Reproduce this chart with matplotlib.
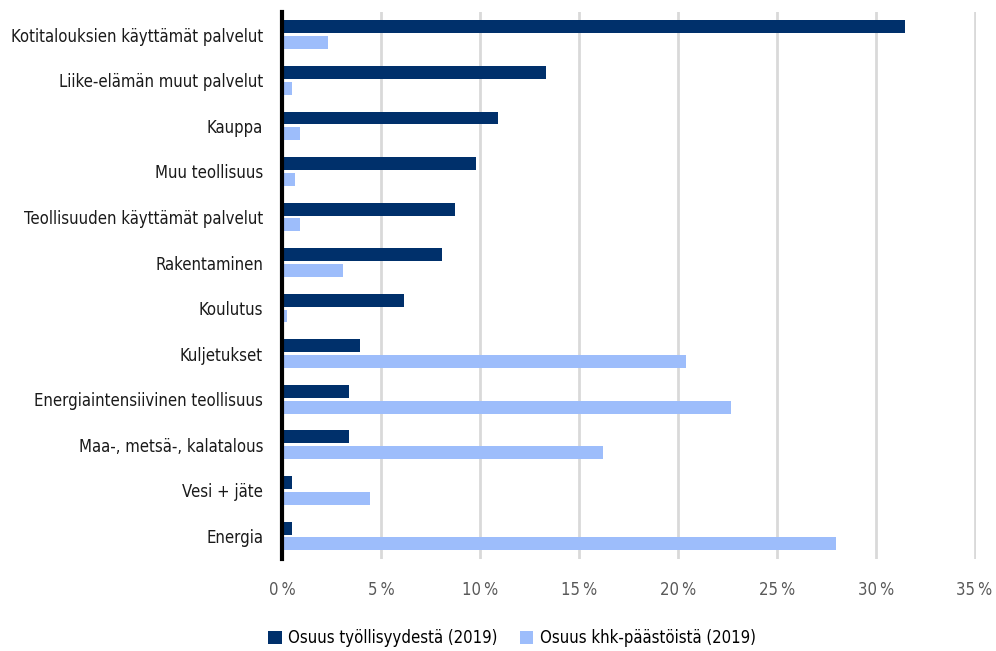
import matplotlib
matplotlib.use("Agg")
import matplotlib.pyplot as plt
import numpy as np

# data (percent)
categories = ["Kotitalouksien käyttämät palvelut", "Liike-elämän muut palvelut", "Kauppa",
              "Muu teollisuus", "Teollisuuden käyttämät palvelut", "Rakentaminen", "Koulutus",
              "Kuljetukset", "Energiaintensiivinen teollisuus", "Maa-, metsä-, kalatalous",
              "Vesi + jäte", "Energia"]
tyollisyys = [31.5, 13.35, 10.9, 9.8, 8.75, 8.05, 6.15, 3.9, 3.35, 3.35, 0.5, 0.5]
paastot = [2.3, 0.5, 0.9, 0.65, 0.9, 3.05, 0.25, 20.4, 22.7, 16.2, 4.45, 28.0]
ticks = [0, 5, 10, 15, 20, 25, 30, 35]
tick_labels = ["0\u2009%", "5\u2009%", "10\u2009%", "15\u2009%", "20\u2009%", "25\u2009%", "30\u2009%", "35\u2009%"]

plt.rcParams['font.family'] = ['DejaVu Sans']
plt.rcParams['font.stretch'] = 'condensed'

dark = '#00306b'
light = '#9dbdfb'

fig = plt.figure(figsize=(9.96, 6.51), dpi=100)
ax = fig.add_axes([0.2836, 0.1418, 0.6965, 0.8398])

y = np.arange(len(categories))
h = 0.285
ax.barh(y - 0.173, tyollisyys, height=h, color=dark, label="Osuus työllisyydestä (2019)", zorder=3)
ax.barh(y + 0.173, paastot, height=h, color=light, label="Osuus khk-päästöistä (2019)", zorder=3)

ax.set_xlim(0, 35.08)
ax.set_ylim(len(categories) - 0.5, -0.5)
ax.set_xticks(ticks)
ax.set_xticklabels(tick_labels, color='#595959', fontsize=12)
ax.set_yticks(y)
ax.set_yticklabels(categories, fontsize=12, color='#1a1a1a')
ax.tick_params(axis='x', length=0, pad=16)
ax.tick_params(axis='y', length=0, pad=14)

ax.grid(axis='x', color='#d9d9d9', linewidth=2, zorder=0)
ax.grid(axis='y', visible=False)
for s in ['top', 'right', 'bottom']:
    ax.spines[s].set_visible(False)
ax.spines['left'].set_linewidth(3)
ax.spines['left'].set_color('black')
ax.spines['left'].set_zorder(4)

fig.legend(loc='center', bbox_to_anchor=(0.514, 0.02), ncol=2, frameon=False,
           fontsize=12, handlelength=0.8, handleheight=0.8, columnspacing=1.3,
           handletextpad=0.4)

fig.savefig("out.png", dpi=100)
